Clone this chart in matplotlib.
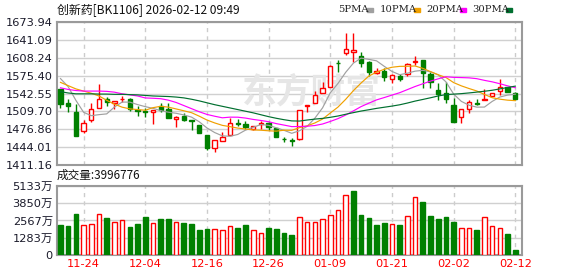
import matplotlib
matplotlib.use("Agg")
import matplotlib.pyplot as plt
from matplotlib.patches import Rectangle

plt.rcParams['font.family'] = ['DejaVu Sans', 'Noto Sans CJK SC']

# daily OHLC (11-19 .. 02-12)
opens = [1550.8, 1525.1, 1508.6, 1474.2, 1493.9, 1515.4, 1531.9, 1526.0, 1531.9, 1532.4,
         1512.2, 1510.4, 1508.0, 1518.7, 1514.0, 1495.7, 1501.2, 1493.3, 1484.7, 1466.3,
         1441.8, 1455.3, 1466.3, 1487.8, 1487.4, 1477.3, 1486.0, 1487.8, 1478.6, 1459.5,
         1456.6, 1458.9, 1519.6, 1524.5, 1542.9, 1555.1, 1599.5, 1616.1, 1619.4, 1611.5,
         1601.0, 1580.2, 1583.9, 1569.2, 1574.7, 1577.8, 1599.9, 1604.1, 1578.4, 1549.0,
         1542.9, 1521.4, 1499.9, 1513.5, 1525.1, 1531.5, 1538.5, 1547.1, 1555.1, 1542.9]
highs = [1551.7, 1531.9, 1523.3, 1493.9, 1524.5, 1560.0, 1535.6, 1528.8, 1537.9, 1534.3,
         1519.6, 1515.0, 1513.0, 1524.2, 1524.5, 1502.1, 1505.8, 1493.9, 1484.7, 1466.3,
         1458.0, 1471.8, 1498.4, 1494.8, 1491.1, 1483.7, 1492.0, 1489.6, 1480.0, 1462.1,
         1460.2, 1513.0, 1522.3, 1548.0, 1564.2, 1594.9, 1604.1, 1653.2, 1653.2, 1619.4,
         1602.3, 1589.4, 1588.5, 1579.3, 1577.5, 1597.7, 1611.5, 1604.1, 1581.2, 1561.9,
         1562.8, 1533.7, 1514.0, 1530.6, 1531.9, 1550.3, 1543.5, 1568.6, 1555.1, 1545.9]
lows = [1515.4, 1509.1, 1465.0, 1470.5, 1490.7, 1515.4, 1519.6, 1513.5, 1526.4, 1511.3,
        1502.0, 1500.0, 1486.0, 1509.1, 1498.0, 1481.5, 1491.1, 1475.5, 1469.4, 1438.7,
        1435.0, 1455.3, 1465.4, 1482.0, 1478.2, 1475.5, 1477.3, 1475.5, 1461.7, 1453.4,
        1446.1, 1458.0, 1509.1, 1524.2, 1542.6, 1553.6, 1582.6, 1613.3, 1601.0, 1591.8,
        1575.6, 1577.8, 1566.1, 1561.3, 1565.5, 1573.8, 1595.8, 1552.1, 1552.7, 1531.5,
        1524.5, 1490.7, 1488.9, 1507.3, 1521.4, 1530.6, 1537.9, 1539.8, 1544.8, 1530.6]
closes = [1522.7, 1520.1, 1465.0, 1487.8, 1513.5, 1531.9, 1527.5, 1527.9, 1533.0, 1513.2,
          1509.5, 1508.6, 1512.2, 1512.2, 1498.4, 1499.4, 1493.9, 1492.0, 1469.4, 1441.8,
          1457.1, 1463.2, 1487.8, 1486.5, 1481.5, 1482.8, 1488.9, 1481.0, 1463.5, 1458.4,
          1455.3, 1512.2, 1521.4, 1538.9, 1553.2, 1594.0, 1597.7, 1623.8, 1623.4, 1599.2,
          1582.6, 1583.9, 1573.4, 1576.6, 1569.2, 1596.2, 1602.8, 1580.8, 1562.8, 1541.6,
          1531.9, 1490.7, 1513.5, 1527.5, 1523.8, 1532.4, 1542.9, 1553.9, 1544.8, 1532.4]

# moving averages as drawn
ma5 = [1570, 1555, 1530, 1508, 1501.8, 1503.7, 1505.1, 1517.7, 1526.8, 1526.7,
       1522.2, 1518.4, 1515.3, 1511.1, 1508.2, 1506.2, 1503.2, 1499.2, 1490.6, 1479.3,
       1470.8, 1464.7, 1463.9, 1467.3, 1475.2, 1480.4, 1485.5, 1484.1, 1479.5, 1474.9,
       1469.4, 1474.1, 1482.2, 1497.2, 1516.2, 1543.9, 1561.0, 1581.5, 1598.4, 1607.6,
       1605.3, 1602.6, 1592.5, 1583.1, 1577.1, 1579.9, 1583.6, 1585.1, 1582.4, 1576.8,
       1564.0, 1541.6, 1528.1, 1521.0, 1517.5, 1517.6, 1528.0, 1536.1, 1539.6, 1541.3]
ma10 = [1563, 1557, 1551, 1547, 1543, 1538, 1530, 1523, 1517.4, 1514.3,
        1513.0, 1511.8, 1516.5, 1519.0, 1517.5, 1514.2, 1510.8, 1507.3, 1500.9, 1493.8,
        1488.5, 1484.0, 1481.6, 1479.0, 1477.3, 1475.6, 1475.1, 1474.0, 1473.4, 1475.1,
        1474.9, 1479.8, 1483.2, 1488.4, 1495.6, 1506.7, 1517.6, 1531.9, 1547.8, 1561.9,
        1574.6, 1581.8, 1587.0, 1590.8, 1592.4, 1592.6, 1593.1, 1588.8, 1582.8, 1577.0,
        1572.0, 1562.6, 1556.6, 1551.7, 1547.2, 1540.8, 1534.8, 1532.1, 1530.3, 1529.4]
ma20 = [1553, 1550, 1548, 1547, 1547, 1547, 1546.5, 1545, 1542, 1540,
        1538, 1534.4, 1533.8, 1533, 1530.3, 1526.1, 1520.4, 1514.7, 1509, 1504.1,
        1500.8, 1497.9, 1499.1, 1499.0, 1497.4, 1494.9, 1493.0, 1490.7, 1487.2, 1484.5,
        1481.7, 1481.9, 1482.4, 1483.7, 1486.5, 1491.2, 1496.4, 1503.0, 1510.6, 1518.5,
        1524.8, 1530.8, 1535.1, 1539.6, 1544.0, 1549.7, 1555.4, 1560.4, 1565.3, 1569.5,
        1573.3, 1572.2, 1571.8, 1571.3, 1569.8, 1566.7, 1564.0, 1560.5, 1556.6, 1553.2]
ma30 = [1546, 1543.5, 1542, 1542, 1542, 1541.5, 1541.5, 1541, 1541, 1540.5,
        1540, 1539, 1538, 1537.5, 1537, 1536, 1534.5, 1532, 1529, 1525.5,
        1522, 1519, 1516, 1513, 1510, 1507, 1503.5, 1500, 1497, 1494.4,
        1492.2, 1491.9, 1493.8, 1495.5, 1496.8, 1498.8, 1501.2, 1504.4, 1507.4, 1510.3,
        1512.7, 1515.2, 1517.3, 1519.4, 1521.8, 1525.0, 1528.6, 1531.6, 1534.7, 1538.0,
        1540.5, 1541.4, 1542.3, 1543.6, 1545.1, 1546.7, 1548.5, 1551.0, 1553.6, 1556.1]

# volume in 万
volumes = [2232, 2157, 3050, 2208, 2282, 3026, 2752, 2430, 2579, 2083,
           2306, 2827, 2356, 2678, 2678, 2430, 2380, 2306, 1860, 1934,
           1909, 1835, 2157, 2009, 2232, 1835, 1612, 2009, 1934, 1637,
           1488, 2815, 2430, 2430, 2653, 2951, 3322, 4439, 4761, 2976,
           2765, 2232, 2380, 2306, 2232, 2877, 4292, 3943, 2901, 2678,
           2827, 2455, 1984, 1984, 1860, 2803, 2157, 2009, 1562, 400]
vol_up = "gggrrrgrrgggrggrggggrrrggrrggggrrrrrrrggggg" "rgrrgggggrrgrrrgg"

price_ticks = [1411.16, 1444.01, 1476.86, 1509.70, 1542.55, 1575.40, 1608.24, 1641.09, 1673.94]
vol_ticks = [0, 1283, 2567, 3850, 5133]
vol_labels = ['0', '1283万', '2567万', '3850万', '5133万']
date_pos = [3, 11, 19, 27, 35, 43, 51, 59]
date_labels = ['11-24', '12-04', '12-16', '12-26', '01-09', '01-21', '02-02', '02-12']

RED = '#ff0000'
GREEN = '#008000'
ma_styles = [('5PMA', ma5, '#a0a0a0'), ('10PMA', ma10, '#f0a000'),
             ('20PMA', ma20, '#ff00ff'), ('30PMA', ma30, '#006f2f')]

fig = plt.figure(figsize=(5.78, 2.76), dpi=100)
W, H = 578, 276
ax = fig.add_axes([57 / W, 1 - 165 / H, 465 / W, 143 / H])
axv = fig.add_axes([57 / W, 1 - 255 / H, 465 / W, 69 / H])

xs = list(range(len(closes)))
xlim = (-0.45, 59.87)


def style_axes(a):
    for s in a.spines.values():
        s.set_color('#9a9a9a')
        s.set_linewidth(1.5)
    a.tick_params(length=0, labelsize=8.2, colors='#1a1a2a', pad=3)
    a.set_xlim(*xlim)
    a.grid(axis='y', color='#d0d0d0', lw=1)
    for p in date_pos:
        a.axvline(p, color='#cccccc', lw=1, ls=(0, (3, 3)), zorder=0)
    a.set_axisbelow(True)


# price panel
style_axes(ax)
ax.set_ylim(price_ticks[0], price_ticks[-1])
ax.set_yticks(price_ticks)
ax.set_yticklabels([f'{t:.2f}' for t in price_ticks])
ax.set_xticks([])
ax.text(32.5, 1545, '东方财富', fontsize=25, fontweight='bold', color='#e6e6e6',
        ha='center', va='center', family=['Noto Sans CJK SC'], zorder=1)

for i in xs:
    o, h, l, c = opens[i], highs[i], lows[i], closes[i]
    up = c >= o
    col = RED if up else GREEN
    ax.vlines(i, l, h, color=col, lw=1, zorder=3)
    ax.bar(i, max(abs(c - o), 1.0), 0.56, min(o, c),
           facecolor='white' if up else col, edgecolor=col, lw=1, zorder=4)

for name, vals, col in ma_styles:
    ax.plot(xs, vals, color=col, lw=0.85, zorder=5)

# volume panel
style_axes(axv)
axv.set_ylim(0, vol_ticks[-1])
axv.set_yticks(vol_ticks)
axv.set_yticklabels(vol_labels)
axv.set_xticks(date_pos)
axv.set_xticklabels(date_labels, color=RED, fontsize=8.2)
for i in xs:
    up = vol_up[i] == 'r'
    col = RED if up else GREEN
    axv.bar(i, volumes[i], 0.6, facecolor='white' if up else col,
            edgecolor=col, lw=1, zorder=3)

# header texts
fig.text(57 / W, 1 - 10 / H, '创新药[BK1106] 2026-02-12 09:49', fontsize=8.6,
         va='center', ha='left', color='#111111', family=['Noto Sans CJK SC', 'DejaVu Sans'])
fig.text(57 / W, 1 - 175 / H, '成交量:3996776', fontsize=8.4,
         va='center', ha='left', color='#111111', family=['Noto Sans CJK SC', 'DejaVu Sans'])

leg_x = [338, 380, 426, 472]
for (name, vals, col), lx in zip(ma_styles, leg_x):
    fig.text(lx / W, 1 - 10 / H, name, fontsize=7.2, va='center', ha='left',
             color='#222222', family=['DejaVu Serif'])
    w = 26 if name == '5PMA' else 31
    fig.patches.append(Rectangle(((lx + w + 3) / W, 1 - 11.5 / H), 6 / W, 3 / H,
                                 transform=fig.transFigure, color=col))

fig.savefig('out.png', dpi=100)
